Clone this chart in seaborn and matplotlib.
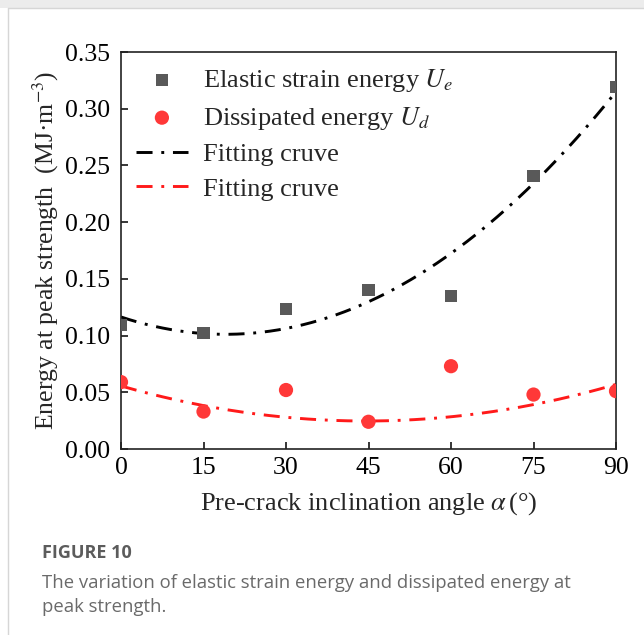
import numpy as np
import pandas as pd
import matplotlib
matplotlib.use("Agg")
import matplotlib.pyplot as plt
import seaborn as sns
from matplotlib.lines import Line2D
from matplotlib.patches import Rectangle

# ---- data ----
angles = [0, 15, 30, 45, 60, 75, 90]
elastic_energy = [0.109, 0.102, 0.123, 0.140, 0.135, 0.241, 0.319]
dissipated_energy = [0.059, 0.033, 0.052, 0.024, 0.073, 0.048, 0.051]
# quadratic fit coefficients (a, b, c)
elastic_fit = [4.24e-5, -0.00161, 0.1164]
dissipated_fit = [1.56e-5, -0.001389, 0.0556]
x_ticks = [0, 15, 30, 45, 60, 75, 90]
y_ticks = [0.00, 0.05, 0.10, 0.15, 0.20, 0.25, 0.30, 0.35]

sns.set_theme(style="ticks")
plt.rcParams["font.family"] = ["Liberation Serif", "DejaVu Serif"]
plt.rcParams["mathtext.fontset"] = "stix"

W, H = 644, 635
fig = plt.figure(figsize=(W / 100, H / 100), dpi=100)
fig.patch.set_facecolor("white")

# card decoration
fig.add_artist(Rectangle((0, 1 - 8 / H), 1, 8 / H, transform=fig.transFigure,
                         facecolor="#ececec", edgecolor="none"))
fig.add_artist(Line2D([8 / W, 8 / W], [0, 1 - 8 / H], transform=fig.transFigure,
                      color="#d6d6d6", lw=1.0))
fig.add_artist(Line2D([8 / W, 1], [1 - 8 / H, 1 - 8 / H], transform=fig.transFigure,
                      color="#d6d6d6", lw=1.0))

ax = fig.add_axes([121 / W, 1 - 449 / H, (616 - 121) / W, (449 - 52) / H])

df = pd.DataFrame({"angle": angles, "Ue": elastic_energy, "Ud": dissipated_energy})
xf = np.linspace(0, 90, 300)
fit_df = pd.DataFrame({"angle": xf,
                       "Ue_fit": np.polyval(elastic_fit, xf),
                       "Ud_fit": np.polyval(dissipated_fit, xf)})

dash = (0, (5.5, 3, 1, 3))
sns.lineplot(data=fit_df, x="angle", y="Ue_fit", ax=ax, color="black", lw=2.1,
             linestyle=dash, label="Fitting cruve", zorder=2)
sns.lineplot(data=fit_df, x="angle", y="Ud_fit", ax=ax, color="#ff1a1a", lw=2.1,
             linestyle=dash, label="Fitting cruve ", zorder=2)
sns.scatterplot(data=df, x="angle", y="Ue", ax=ax, marker="s", s=75, color="#595959",
                edgecolor="none", label=r"Elastic strain energy $U_e$", zorder=3)
sns.scatterplot(data=df, x="angle", y="Ud", ax=ax, marker="o", s=105, color="#ff3838",
                edgecolor="none", label=r"Dissipated energy $U_d$", zorder=3)

ax.set_xlim(0, 90)
ax.set_ylim(0, 0.35)
ax.set_xticks(x_ticks)
ax.set_yticks(y_ticks)
ax.set_yticklabels([f"{v:.2f}" for v in y_ticks])
ax.tick_params(direction="in", length=5, width=1.1, labelsize=18.5, colors="black",
               top=False, right=False)
ax.tick_params(axis="y", pad=8)
ax.tick_params(axis="x", pad=6)
for sp in ax.spines.values():
    sp.set_visible(True)
    sp.set_linewidth(1.2)
    sp.set_color("#222222")

ax.set_xlabel(r"Pre-crack inclination angle $\alpha\,$(°)", fontsize=19, labelpad=8)
ax.set_ylabel("Energy at peak strength  (MJ·m$^{-3}$)", fontsize=18.5, labelpad=3)

handles, labels = ax.get_legend_handles_labels()
order = [2, 3, 0, 1]
leg = ax.legend([handles[i] for i in order], [labels[i].strip() for i in order],
                loc="upper left", bbox_to_anchor=(0.0, 1.0), frameon=False,
                fontsize=19, handlelength=2.0, handletextpad=0.55, labelspacing=0.42,
                borderaxespad=0.15)

fig.text(42 / W, 1 - 553 / H, "FIGURE 10", fontsize=13, fontweight="bold",
         color="#5c5c5c", family="Open Sans", va="center")
fig.text(42 / W, 1 - 583 / H,
         "The variation of elastic strain energy and dissipated energy at",
         fontsize=13.3, color="#6a6a6a", family="Open Sans", va="center")
fig.text(42 / W, 1 - 607 / H, "peak strength.", fontsize=13.3, color="#6a6a6a",
         family="Open Sans", va="center")

fig.savefig("out.png", dpi=100)
